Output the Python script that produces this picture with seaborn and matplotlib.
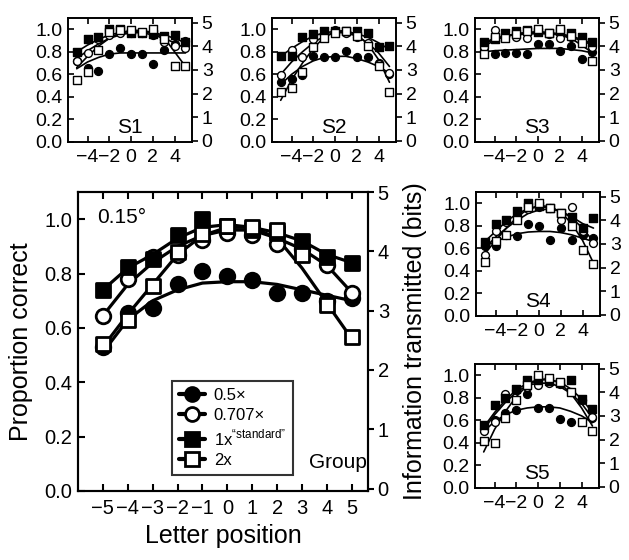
import numpy as np
import pandas as pd
import seaborn as sns
import matplotlib
matplotlib.use("Agg")
import matplotlib.pyplot as plt
from matplotlib.lines import Line2D

sns.set_style("ticks")
plt.rcParams["font.family"] = ["Liberation Sans", "DejaVu Sans"]
plt.rcParams["mathtext.fontset"] = "custom"
plt.rcParams["mathtext.rm"] = "Liberation Sans"
for key in ["text.color", "axes.labelcolor", "xtick.color", "ytick.color",
            "axes.edgecolor"]:
    plt.rcParams[key] = "black"

# Letter positions and the four print-size conditions
positions = list(range(-5, 6))
conditions = ["0.5\u00d7", "0.707\u00d7", "1x", "2x"]

# Group data (proportion correct): rows = 0.5x, 0.707x, 1x, 2x
group_points = [
    [0.53, 0.655, 0.675, 0.76, 0.81, 0.79, 0.775, 0.73, 0.73, 0.70, 0.71],
    [0.645, 0.78, 0.86, 0.87, 0.925, 0.95, 0.94, 0.91, 0.89, 0.83, 0.73],
    [0.74, 0.825, 0.855, 0.94, 1.0, 0.975, 0.96, 0.95, 0.92, 0.86, 0.84],
    [0.54, 0.63, 0.755, 0.88, 0.945, 0.975, 0.97, 0.96, 0.87, 0.685, 0.565],
]
group_fits = [
    [0.51, 0.63, 0.70, 0.74, 0.765, 0.77, 0.77, 0.76, 0.74, 0.72, 0.70],
    [0.645, 0.76, 0.84, 0.90, 0.94, 0.96, 0.96, 0.93, 0.89, 0.83, 0.73],
    [0.74, 0.82, 0.87, 0.93, 0.97, 0.98, 0.97, 0.95, 0.92, 0.87, 0.84],
    [0.53, 0.65, 0.76, 0.87, 0.94, 0.97, 0.97, 0.93, 0.82, 0.69, 0.56],
]

# Individual subjects
s1_points = [
    [0.72, 0.66, 0.63, 0.78, 0.83, 0.78, 0.78, 0.69, 0.82, 0.87, 0.90],
    [0.72, 0.79, 0.91, 0.95, 0.965, 0.97, 0.97, 0.95, 0.89, 0.85, 0.83],
    [0.80, 0.91, 0.93, 1.0, 1.0, 0.97, 0.965, 0.96, 0.94, 0.95, 0.89],
    [0.55, 0.62, 0.82, 0.98, 0.99, 0.99, 0.98, 1.0, 0.91, 0.67, 0.67],
]
s1_fits = [
    [0.65, 0.71, 0.75, 0.78, 0.79, 0.79, 0.79, 0.79, 0.79, 0.79, 0.79],
    [0.74, 0.81, 0.87, 0.92, 0.95, 0.97, 0.97, 0.95, 0.92, 0.88, 0.83],
    [0.80, 0.86, 0.91, 0.95, 0.97, 0.98, 0.98, 0.97, 0.95, 0.92, 0.88],
    [0.66, 0.76, 0.85, 0.92, 0.97, 0.99, 0.99, 0.97, 0.93, 0.80, 0.67],
]
s2_points = [
    [0.53, 0.56, 0.59, 0.76, 0.755, 0.755, 0.81, 0.75, 0.75, 0.70, 0.60],
    [0.59, 0.82, 0.755, 0.91, 0.95, 0.99, 0.97, 0.93, 0.88, 0.69, 0.61],
    [0.76, 0.76, 0.93, 0.96, 0.985, 0.985, 0.985, 0.985, 0.97, 0.84, 0.85],
    [0.44, 0.48, 0.62, 0.84, 0.92, 0.97, 0.985, 0.94, 0.85, 0.67, 0.44],
]
s2_fits = [
    [0.51, 0.60, 0.67, 0.72, 0.75, 0.76, 0.76, 0.74, 0.71, 0.67, 0.61],
    [0.60, 0.71, 0.80, 0.88, 0.94, 0.97, 0.97, 0.94, 0.88, 0.79, 0.67],
    [0.76, 0.83, 0.89, 0.94, 0.97, 0.98, 0.98, 0.96, 0.93, 0.88, 0.82],
    [0.37, 0.55, 0.70, 0.83, 0.93, 0.98, 0.99, 0.95, 0.87, 0.73, 0.53],
]
s3_points = [
    [0.83, 0.78, 0.79, 0.79, 0.78, 0.87, 0.87, 0.81, 0.85, 0.74, 0.80],
    [0.84, 0.99, 0.94, 0.93, 0.92, 0.985, 0.955, 0.92, 0.93, 0.91, 0.84],
    [0.89, 0.91, 0.97, 0.985, 0.99, 0.98, 0.97, 0.985, 0.97, 0.93, 0.89],
    [0.78, 0.93, 0.92, 0.96, 0.985, 1.0, 0.97, 1.0, 0.94, 0.88, 0.72],
]
s3_fits = [
    [0.80, 0.81, 0.815, 0.82, 0.825, 0.83, 0.83, 0.83, 0.82, 0.81, 0.79],
    [0.88, 0.92, 0.94, 0.95, 0.96, 0.96, 0.96, 0.95, 0.93, 0.90, 0.86],
    [0.87, 0.91, 0.94, 0.96, 0.97, 0.97, 0.97, 0.96, 0.94, 0.91, 0.87],
    [0.85, 0.90, 0.94, 0.96, 0.97, 0.98, 0.97, 0.95, 0.92, 0.86, 0.79],
]
s4_points = [
    [0.62, 0.62, 0.72, 0.71, 0.82, 0.80, 0.67, 0.78, 0.67, 0.72, 0.695],
    [0.54, 0.75, 0.83, 0.87, 0.95, 0.97, 0.96, 0.85, 0.97, 0.75, 0.645],
    [0.66, 0.82, 0.85, 0.93, 1.0, 0.98, 0.955, 0.91, 0.88, 0.78, 0.87],
    [0.48, 0.665, 0.72, 0.85, 0.97, 1.0, 0.96, 0.91, 0.80, 0.585, 0.46],
]
s4_fits = [
    [0.62, 0.66, 0.70, 0.73, 0.745, 0.75, 0.75, 0.74, 0.72, 0.69, 0.66],
    [0.60, 0.70, 0.78, 0.85, 0.91, 0.94, 0.95, 0.93, 0.87, 0.78, 0.66],
    [0.66, 0.75, 0.84, 0.91, 0.95, 0.97, 0.96, 0.93, 0.88, 0.82, 0.78],
    [0.55, 0.67, 0.78, 0.88, 0.95, 0.98, 0.97, 0.92, 0.82, 0.67, 0.47],
]
s5_points = [
    [0.52, 0.60, 0.665, 0.695, 0.83, 0.71, 0.71, 0.615, 0.585, 0.78, 0.62],
    [0.51, 0.585, 0.83, 0.87, 0.90, 0.91, 0.93, 0.92, 0.85, 0.78, 0.63],
    [0.56, 0.74, 0.80, 0.88, 0.96, 0.96, 0.95, 0.93, 0.96, 0.79, 0.70],
    [0.42, 0.40, 0.62, 0.78, 0.91, 1.0, 0.98, 0.94, 0.85, 0.585, 0.51],
]
s5_fits = [
    [0.50, 0.59, 0.65, 0.69, 0.71, 0.72, 0.72, 0.71, 0.68, 0.64, 0.58],
    [0.52, 0.65, 0.76, 0.85, 0.91, 0.93, 0.93, 0.90, 0.84, 0.75, 0.62],
    [0.54, 0.67, 0.78, 0.87, 0.93, 0.96, 0.96, 0.94, 0.88, 0.79, 0.67],
    [0.32, 0.52, 0.68, 0.81, 0.91, 0.96, 0.97, 0.93, 0.84, 0.71, 0.55],
]

marker_styles = [("o", "black"), ("o", "white"), ("s", "black"), ("s", "white")]

W, H = 629, 560
fig = plt.figure(figsize=(W / 100, H / 100), dpi=100)


def draw_panel(ax, points, fits, big):
    lw = 2.3 if big else 1.2
    size = 110 if big else 32
    mew = 2.0 if big else 1.0
    for i in range(4):
        sns.lineplot(x=positions, y=fits[i], ax=ax, color="black", lw=lw,
                     zorder=2, legend=False)
    for i in range(4):
        mk, fc = marker_styles[i]
        s = size * (0.85 if mk == "s" else 1.0)
        sns.scatterplot(x=positions, y=points[i], ax=ax, marker=mk, s=s,
                        color=fc, edgecolor="black", linewidth=mew,
                        zorder=3 + i, legend=False, clip_on=False)
    sw = 1.5 if big else 1.2
    for sp in ax.spines.values():
        sp.set_linewidth(sw)
        sp.set_visible(True)
    ax.set_ylim(0, 1.1)
    ax.set_yticks([0.0, 0.2, 0.4, 0.6, 0.8, 1.0])
    ax.set_yticklabels(["0.0", "0.2", "0.4", "0.6", "0.8", "1.0"])
    if big:
        ax.set_xlim(-6.0, 5.65)
        ax.set_xticks(positions)
    else:
        ax.set_xlim(-5.8, 5.6)
        ax.set_xticks([-4, -2, 0, 2, 4])
    ax.tick_params(direction="in", top=True, right=False, length=5 if big else 4,
                   width=sw, labelsize=14.5 if big else 14, colors="black")
    ax.tick_params(axis="x", pad=6 if big else 5)
    ax.tick_params(axis="y", pad=4)
    ax.set_xlabel("")
    ax.set_ylabel("")

    ax2 = ax.twinx()
    if big:
        ax2.set_ylim(-0.04, 5.0)
    else:
        ax2.set_ylim(-0.05, 5.2)
    ax2.set_yticks(range(6))
    ax2.tick_params(axis="y", direction="out", length=4, width=sw,
                    labelsize=14.5 if big else 14, pad=3, colors="black")
    for sp in ax2.spines.values():
        sp.set_linewidth(sw)
    return ax2


# Main group panel
ax = fig.add_axes([78 / W, 1 - 491 / H, 290 / W, 299 / H])
ax2 = draw_panel(ax, group_points, group_fits, True)
ax.set_xlabel("Letter position", fontsize=18, labelpad=4)
ax.set_ylabel("Proportion correct", fontsize=18, labelpad=8)
ax2.set_ylabel("Information transmitted (bits)", fontsize=18, labelpad=10)
ax.text(0.065, 0.915, "0.15\u00b0", transform=ax.transAxes, fontsize=15,
        ha="left", va="center")
ax.text(0.995, 0.095, "Group", transform=ax.transAxes, fontsize=15,
        ha="right", va="center")

legend_labels = ["0.5\u00d7", "0.707\u00d7",
                 "1x$^{\\mathregular{\u201cstandard\u201d}}$", "2x"]
handles = []
for mk, fc in marker_styles:
    handles.append(Line2D([], [], color="black", lw=3, marker=mk,
                          markersize=10 if mk == "o" else 9.5,
                          markerfacecolor=fc, markeredgecolor="black",
                          markeredgewidth=2))
leg = ax.legend(handles, legend_labels, loc="lower left",
                bbox_to_anchor=(0.324, 0.054), borderaxespad=0,
                fontsize=12, frameon=True, fancybox=False,
                edgecolor="black", handlelength=1.6, handletextpad=0.5,
                labelspacing=0.3, borderpad=0.4)
leg.get_frame().set_linewidth(1.5)
leg.set_zorder(10)

# Subject panels
small_w, small_h = 124 / W, 124 / H
subject_panels = [
    ("S1", s1_points, s1_fits, 68, 142),
    ("S2", s2_points, s2_fits, 272, 142),
    ("S3", s3_points, s3_fits, 475, 142),
    ("S4", s4_points, s4_fits, 476, 316),
    ("S5", s5_points, s5_fits, 475, 488),
]
for name, pts, fts, left, bottom in subject_panels:
    a = fig.add_axes([left / W, 1 - bottom / H, small_w, small_h])
    draw_panel(a, pts, fts, False)
    a.text(0.5, 0.115, name, transform=a.transAxes, fontsize=15,
           ha="center", va="center")

fig.savefig("out.png", dpi=100)
